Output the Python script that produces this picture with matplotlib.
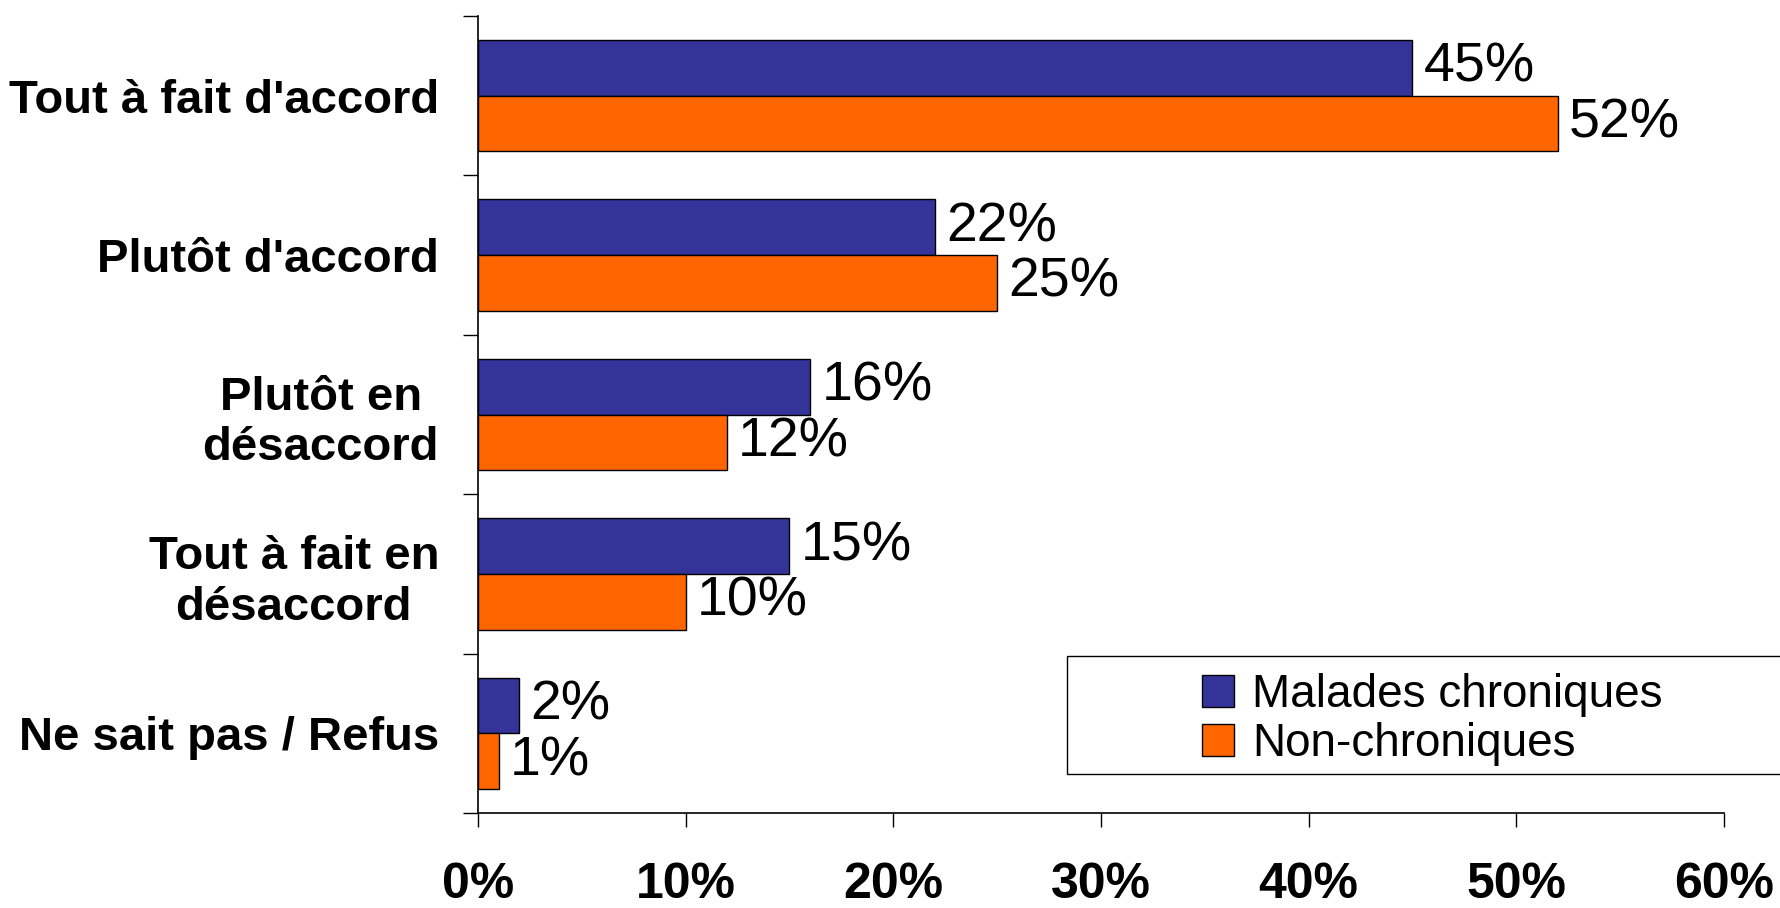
import matplotlib
matplotlib.use("Agg")
import matplotlib.pyplot as plt
import numpy as np
from matplotlib.ticker import FixedLocator
from matplotlib.patches import Rectangle

categories = ["Tout à fait d'accord", "Plutôt d'accord", "Plutôt en\ndésaccord",
              "Tout à fait en\ndésaccord", "Ne sait pas / Refus"]
series_names = ["Malades chroniques", "Non-chroniques"]
chroniques = [45, 22, 16, 15, 2]
non_chroniques = [52, 25, 12, 10, 1]
xticks = [0, 10, 20, 30, 40, 50, 60]
xtick_labels = ["0%", "10%", "20%", "30%", "40%", "50%", "60%"]

colors = ["#333399", "#FF6600"]
font = "Liberation Sans"

fig = plt.figure(figsize=(17.8, 9.08), dpi=100)
ax = fig.add_axes([0.2685, 0.1046, 0.7, 0.8778])

y = np.arange(len(categories))
h = 0.35
b1 = ax.barh(y - h / 2, chroniques, height=h, color=colors[0], edgecolor="black",
             linewidth=1.0, label=series_names[0])
b2 = ax.barh(y + h / 2, non_chroniques, height=h, color=colors[1], edgecolor="black",
             linewidth=1.0, label=series_names[1])

for bars, vals in ((b1, chroniques), (b2, non_chroniques)):
    for rect, v in zip(bars, vals):
        ax.annotate(f"{v}%", xy=(v, rect.get_y() + rect.get_height() / 2),
                    xytext=(8, 0), textcoords="offset points", ha="left", va="center",
                    fontsize=40, family=font, color="black")

ax.set_xlim(0, 60)
ax.set_ylim(len(categories) - 0.5, -0.5)

ax.set_xticks(xticks)
ax.set_xticklabels(xtick_labels, fontsize=36, fontweight="bold", family=font)
ax.tick_params(axis="x", length=10, width=1.0, pad=25, direction="out")

ax.yaxis.set_major_locator(FixedLocator(y))
ax.set_yticklabels(categories, fontsize=34, fontweight="bold", family=font,
                   multialignment="center")
ax.tick_params(axis="y", which="major", length=0, pad=28)
ax.yaxis.set_minor_locator(FixedLocator(np.arange(-0.5, len(categories), 1.0)))
ax.tick_params(axis="y", which="minor", length=11, width=1.0, direction="out")

for s in ("top", "right"):
    ax.spines[s].set_visible(False)
for s in ("left", "bottom"):
    ax.spines[s].set_linewidth(1.2)

# legend frame extending past the right edge, as in the reference
fx0, fy0 = 1067 / 1780, 1 - 774 / 908
fig.patches.append(Rectangle((fx0, fy0), 0.5, (774 - 656) / 908,
                             transform=fig.transFigure, facecolor="white",
                             edgecolor="black", linewidth=1.0, zorder=5))

leg = fig.legend(loc="upper left", bbox_to_anchor=(1186 / 1780, 1 - 657 / 908),
                 prop={"family": font, "size": 33}, frameon=False,
                 handlelength=0.7, handleheight=0.7,
                 handletextpad=0.4, borderpad=0.35, labelspacing=0.1,
                 borderaxespad=0)
leg.set_zorder(6)

fig.savefig("out.png", dpi=100)
